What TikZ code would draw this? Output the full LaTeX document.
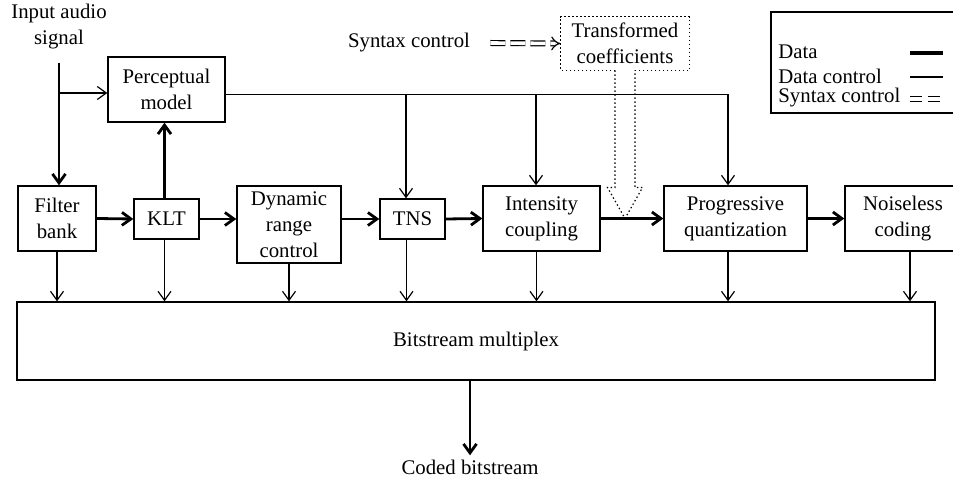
\documentclass[tikz,border=0pt]{standalone}
\usepackage{fontspec}
\setmainfont{Liberation Serif}
\usetikzlibrary{arrows.meta}

\begin{document}
\begin{tikzpicture}[x=0.5pt,y=-0.5pt,
        font=\fontsize{10.4}{13}\selectfont,
        blk/.style={draw,line width=0.7pt,align=center,inner sep=0pt},
        data/.style={line width=1.4pt,-{Straight Barb[length=4.5pt,width=6.5pt]}},
        ctrl/.style={line width=0.6pt,-{Straight Barb[length=4.5pt,width=6.5pt]}},
        syn/.style={double,double distance=1.8pt,line width=0.6pt,dash pattern=on 7.5pt off 2.5pt},
        dots/.style={line width=0.6pt,dash pattern=on 0.7pt off 1.3pt}]
    \useasboundingbox (0,0) rectangle (953,480);

    % blocks
    \node[align=center] (input) at (59,27) {Input audio\\signal};
    \node[blk,minimum width=58.5pt,minimum height=32.5pt] (pm) at (166.5,89.5) {Perceptual\\model};
    \node[blk,minimum width=39pt,minimum height=32.5pt] (fb) at (57,218.5) {Filter\\bank};
    \node[blk,minimum width=32.5pt,minimum height=20pt] (klt) at (166.5,219) {KLT};
    \node[blk,minimum width=52pt,minimum height=38.5pt] (drc) at (289,224.5) {Dynamic\\range\\control};
    \node[blk,minimum width=32.5pt,minimum height=20pt] (tns) at (412.5,219) {TNS};
    \node[blk,minimum width=58.5pt,minimum height=32.5pt] (ic) at (541.5,218.5) {Intensity\\coupling};
    \node[blk,minimum width=71.5pt,minimum height=32.5pt] (pq) at (735.5,218.5) {Progressive\\quantization};
    \node[blk,minimum width=58pt,minimum height=32.5pt] (nc) at (903,218.5) {Noiseless\\coding};
    \node[blk,minimum width=459pt,minimum height=39pt] (bm) at (476,341) {Bitstream multiplex};
    \node[inner sep=2pt] (cb) at (470,467) {Coded bitstream};

    % syntax control
    \node[inner sep=0pt] (sc) at (409,43) {Syntax control};
    \node[align=center,minimum width=64pt,minimum height=26.5pt,inner sep=0pt] (tc) at (625,43.5) {Transformed\\coefficients};
    \draw[syn,-{Implies[length=3.5pt,width=8pt]}] ([xshift=10pt]sc.east) -- (tc.west);
    \coordinate (tip) at (tc.south |- ic.east);
    \draw[dots] ([xshift=-5pt]tc.south) -| (tc.north west) -| (tc.south east) -- ([xshift=5pt]tc.south);
    \draw[dots] ([xshift=-5pt]tc.south) -- ([xshift=-5pt,yshift=15.5pt]tip) -- ([xshift=-8.75pt,yshift=15.5pt]tip)
        -- (tip) -- ([xshift=8.75pt,yshift=15.5pt]tip) -- ([xshift=5pt,yshift=15.5pt]tip) -- ([xshift=5pt]tc.south);

    % data path
    \draw[data] ([yshift=-3pt]input.south) -- (input.south |- fb.north);
    \draw[data] ([xshift=-1pt]klt.north) -- ([xshift=-1pt]klt.north |- pm.south);
    \draw[data] (fb.east) -- (klt.west);
    \draw[data] (klt.east) -- (klt.east -| drc.west);
    \draw[data] (drc.east |- tns.west) -- (tns.west);
    \draw[data] (tns.east) -- (ic.west);
    \draw[data] (ic.east) -- (pq.west);
    \draw[data] (pq.east) -- (nc.west);
    \draw[data] (cb.north |- bm.south) -- (cb.north);

    % data control
    \draw[ctrl] (input.south |- 0,93) -- (pm.west |- 0,93);
    \draw[ctrl] ([yshift=-2.5pt]pm.east) -| ([xshift=-3.75pt]pq.north);
    \draw[ctrl] ([xshift=-3.25pt]tns.north |- 0,95) -- ([xshift=-3.25pt]tns.north);
    \draw[ctrl] ([xshift=-2.75pt]ic.north |- 0,95) -- ([xshift=-2.75pt]ic.north);
    \foreach \b/\s in {fb/0,klt/-1,drc/0,tns/-3,ic/-2.5,pq/-3.75,nc/3.5}
        \draw[ctrl] ([xshift=\s pt]\b.south) -- ([xshift=\s pt]\b.south |- bm.north);

    % legend
    \draw[line width=0.7pt] (771,12) rectangle (990,113);
    \node[anchor=west,inner sep=0pt] (lgd) at (778,52) {Data};
    \node[anchor=west,inner sep=0pt] (lgc) at (778,76) {Data control};
    \node[anchor=west,inner sep=0pt] (lgs) at (778,98) {Syntax control};
    \draw[line width=1.6pt] (910,53) -- (943,53);
    \draw[line width=0.6pt] (910,77) -- (943,77);
    \draw[syn,dash pattern=on 6pt off 3pt] (910,99) -- (943,99);
\end{tikzpicture}
\end{document}
